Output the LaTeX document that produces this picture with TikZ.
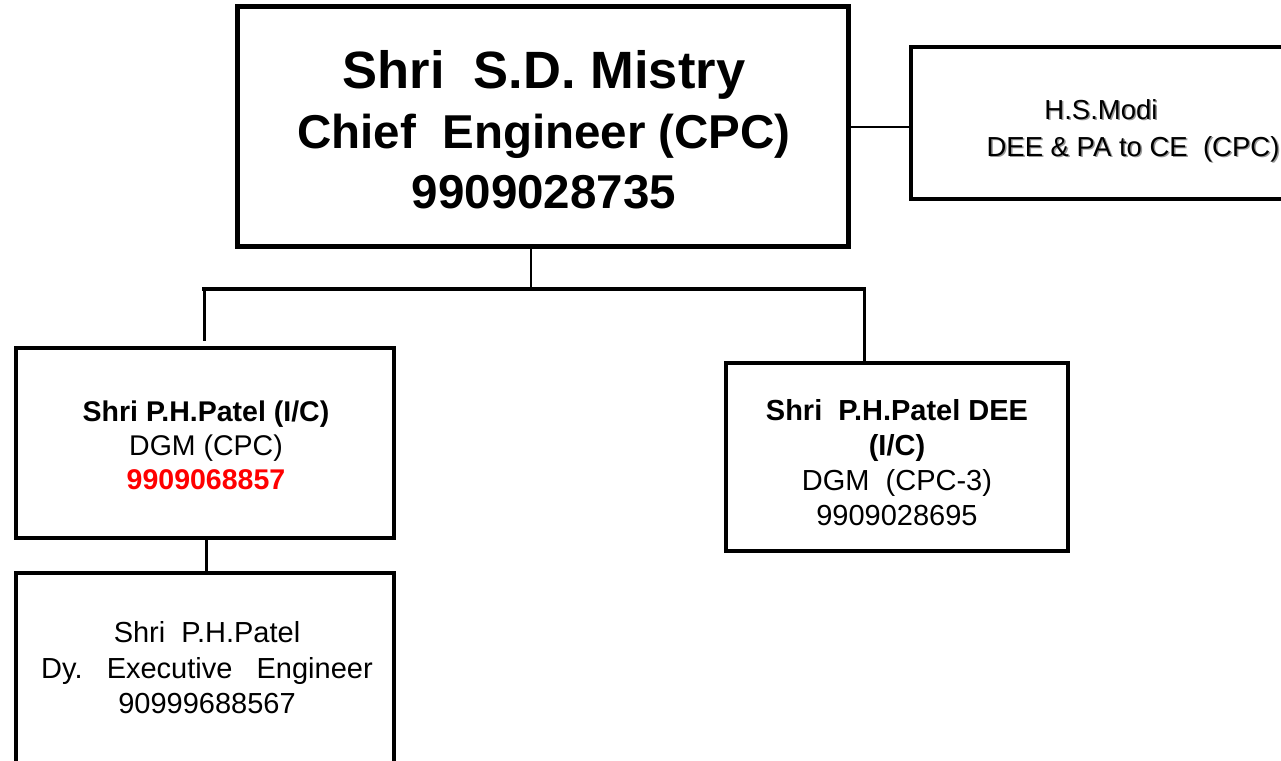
\documentclass[tikz,border=0pt]{standalone}
\usepackage{fontspec}
\setmainfont{Liberation Sans}
\definecolor{numred}{RGB}{255,0,0}
\begin{document}
\begin{tikzpicture}[x=1pt,y=-1pt,
  orgbox/.style={draw=black, line width=4pt, inner sep=0pt},
  bigtext/.style={font=\fontsize{47.5}{60}\selectfont\bfseries, align=center, inner sep=0pt},
  midtext/.style={font=\fontsize{28.5}{34}\selectfont, align=center, inner sep=0pt},
  patext/.style={font=\fontsize{27.5}{34}\selectfont, inner sep=0pt, anchor=base},
  shadowtext/.style={patext, text=black!40},
  thinlink/.style={draw=black, line width=2pt},
  link/.style={draw=black, line width=3pt},
  barlink/.style={draw=black, line width=4pt}]
\useasboundingbox (0,0) rectangle (1281,760);
\clip (0,0) rectangle (1281,760);
\fill[white] (0,0) rectangle (1281,760);

% boxes
\node[orgbox, line width=5pt, minimum width=611pt, minimum height=240pt] (ce) at (543,126.5) {};
\node[orgbox, minimum width=381pt, minimum height=152pt] (pa) at (1101.5,123) {};
\node[orgbox, minimum width=378pt, minimum height=190pt] (dgm) at (205,443) {};
\node[orgbox, minimum width=342pt, minimum height=188pt] (dgmc) at (897,457) {};
\node[orgbox, minimum width=378pt, minimum height=217pt] (dee) at (205,681.5) {};

% texts
\node[bigtext] (cet) at (544,130) {{\fontsize{52.5}{60}\selectfont Shri\ \ S.D. Mistry}\\Chief\ \ Engineer (CPC)\\9909028735};

\node[shadowtext] at (1102.5,120.5) {H.S.Modi};
\node[patext] (pat1) at (1101,119) {H.S.Modi};
\node[shadowtext] at (1134.5,157.5) {DEE \& PA to CE\ \ (CPC)};
\node[patext] (pat2) at (1133,156) {DEE \& PA to CE\ \ (CPC)};

\node[midtext] (dgmt) at (206,445) {\textbf{Shri P.H.Patel (I/C)}\\DGM (CPC)\\\textcolor{numred}{\textbf{9909068857}}};
\node[midtext, font=\fontsize{29}{35}\selectfont] (dgmct) at (897,463) {\textbf{Shri\ \ P.H.Patel DEE}\\\textbf{(I/C)}\\DGM\ \ (CPC-3)\\9909028695};
\node[midtext, font=\fontsize{29}{35.5}\selectfont] (deet) at (207,668) {Shri\ \ P.H.Patel\\Dy.\ \ \ Executive\ \ \ Engineer\\90999688567};

% connectors
\coordinate (jm) at (531,289);
\coordinate (jl) at (204,289);
\coordinate (jr) at (864,289);
\draw[thinlink] (ce.east) -- (ce.east -| pa.west);
\draw[thinlink] (jm |- ce.south) -- (jm);
\draw[barlink] ([xshift=-2pt]jl) -- ([xshift=2pt]jr);
\draw[link, shorten >=5pt] (jl) -- (jl |- dgm.north);
\draw[link] (jr) -- (jr |- dgmc.north);
\draw[link] ([xshift=1pt]dgm.south) -- ([xshift=1pt]dgm.south |- dee.north);
\end{tikzpicture}
\end{document}
